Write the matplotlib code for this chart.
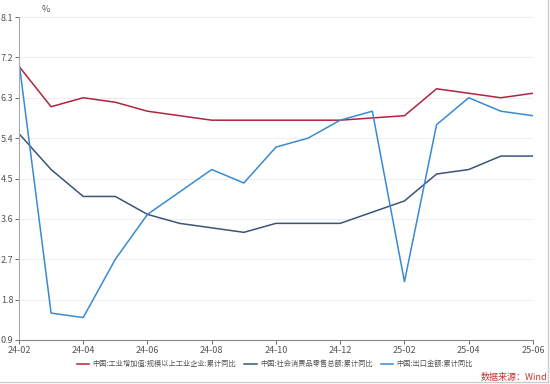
import matplotlib.pyplot as plt
from matplotlib.lines import Line2D

plt.rcParams['font.family'] = ['Noto Sans CJK SC', 'DejaVu Sans']

months = ['24-02', '24-03', '24-04', '24-05', '24-06', '24-07', '24-08', '24-09',
          '24-10', '24-11', '24-12', '25-01', '25-02', '25-03', '25-04', '25-05', '25-06']
industry = [7.0, 6.1, 6.3, 6.2, 6.0, 5.9, 5.8, 5.8, 5.8, 5.8, 5.8, None,
            5.9, 6.5, 6.4, 6.3, 6.4]
retail = [5.5, 4.7, 4.1, 4.1, 3.7, 3.5, 3.4, 3.3, 3.5, 3.5, 3.5, None,
          4.0, 4.6, 4.7, 5.0, 5.0]
export = [7.1, 1.5, 1.4, 2.7, 3.7, 4.2, 4.7, 4.4, 5.2, 5.4, 5.8, 6.0,
          2.2, 5.7, 6.3, 6.0, 5.9]

names = ['中国:工业增加值:规模以上工业企业:累计同比',
         '中国:社会消费品零售总额:累计同比',
         '中国:出口金额:累计同比']
colors = ['#B0243E', '#3B5478', '#3A8AD0']
yticks = [0.9, 1.8, 2.7, 3.6, 4.5, 5.4, 6.3, 7.2, 8.1]

fig = plt.figure(figsize=(5.5, 3.84), dpi=100)
ax = fig.add_axes([0.0345, 0.1146, 0.9345, 0.8411])

for vals, name, c in zip([industry, retail, export], names, colors):
    xs = [i for i, v in enumerate(vals) if v is not None]
    ys = [v for v in vals if v is not None]
    ax.plot(xs, ys, color=c, lw=1.1, label=name)

ax.set_xlim(0, len(months) - 1)
ax.set_ylim(0.9, 8.1)
ax.set_yticks(yticks)
ax.set_yticklabels([f'{t:.1f}' for t in yticks])
ax.set_xticks(range(0, len(months), 2))
ax.set_xticklabels(months[::2])
ax.tick_params(axis='both', labelsize=6.5, colors='#555555', length=3, width=0.6, pad=1)
ax.grid(axis='y', color='#EBEBEB', lw=0.6)
ax.set_axisbelow(True)
for s in ['top', 'right']:
    ax.spines[s].set_visible(False)
ax.spines['left'].set_color('#AAAAAA')
ax.spines['bottom'].set_color('#888888')
ax.spines['left'].set_linewidth(0.8)
ax.spines['bottom'].set_linewidth(0.8)

fig.text(0.083, 0.975, '%', fontsize=6.5, color='#555555', ha='center', va='center')

fig.legend(loc='center', bbox_to_anchor=(0.5, 0.052), ncol=3, frameon=False,
           fontsize=5.2, handlelength=1.7, columnspacing=1.1, handletextpad=0.5,
           labelcolor='#555555')
fig.text(0.995, 0.018, '数据来源：Wind', fontsize=6.5, color='#D03030', ha='right', va='center')

# light frame on right and bottom edges only
fig.lines.append(Line2D([0.997, 0.997], [0.004, 1], transform=fig.transFigure,
                        color='#CCCCCC', lw=1))
fig.lines.append(Line2D([0, 0.997], [0.004, 0.004], transform=fig.transFigure,
                        color='#CCCCCC', lw=1))

fig.savefig('out.png', dpi=100)
